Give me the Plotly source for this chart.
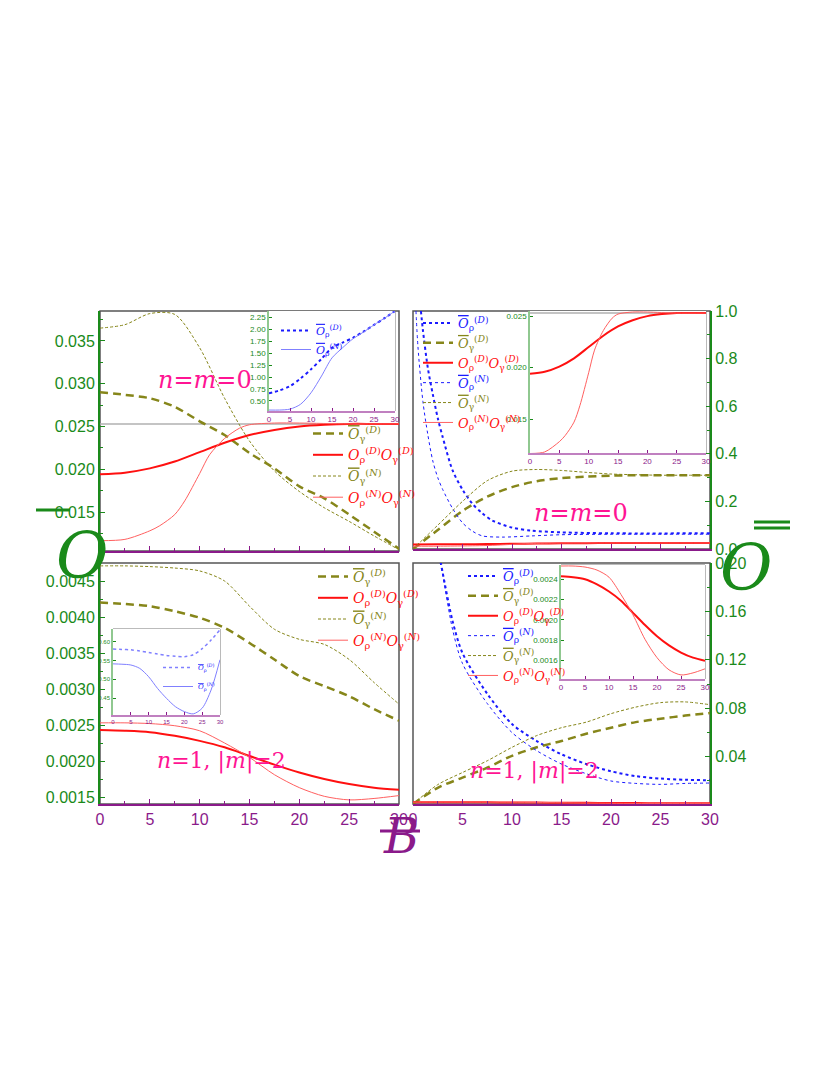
import plotly.graph_objects as go

# shared field grid
b = [0, 2.5, 5, 7.5, 10, 12.5, 15, 17.5, 20, 22.5, 25, 27.5, 30]

# n=m=0
n0_gam_D = [0.0290, 0.0287, 0.0283, 0.0273, 0.0256, 0.0240, 0.0219, 0.0201, 0.0180, 0.0166, 0.0147, 0.0127, 0.0107]
n0_gam_N = [0.0365, 0.0369, 0.0382, 0.0381, 0.0342, 0.0283, 0.0233, 0.0198, 0.0174, 0.0155, 0.0139, 0.0122, 0.0106]
n0_prod_D = [0.0194, 0.0196, 0.0201, 0.0209, 0.0220, 0.0231, 0.0240, 0.0246, 0.0250, 0.0252, 0.0253, 0.0253, 0.0253]
n0_prod_N_b = [0, 2.5, 5, 6, 7.5, 8.5, 10, 11, 12.5, 14, 15, 17.5, 20, 25, 30]
n0_prod_N = [0.01165, 0.0118, 0.0128, 0.0134, 0.0147, 0.0163, 0.0195, 0.0217, 0.0236, 0.0248, 0.0252, 0.0254, 0.0254, 0.0253, 0.0253]
n0_limit = 0.0253
n0_rho_D = [0.66, 0.72, 0.81, 0.97, 1.16, 1.38, 1.61, 1.72, 1.82, 1.95, 2.09, 2.23, 2.38]
n0_rho_N = [0.31, 0.31, 0.33, 0.43, 0.67, 1.02, 1.40, 1.61, 1.80, 1.94, 2.09, 2.23, 2.38]
n0_rhoD_b = [0.8, 1, 1.5, 2, 2.5, 3, 4, 5, 6, 7, 8, 10, 12, 15, 20, 30]
n0_rhoD_scaled = [1.0, 0.92, 0.76, 0.65, 0.55, 0.47, 0.33, 0.25, 0.19, 0.15, 0.12, 0.09, 0.077, 0.07, 0.066, 0.066]
n0_rhoN_b = [0.3, 0.5, 1, 1.5, 2, 2.5, 3, 4, 5, 6, 7, 9, 12, 15, 20, 30]
n0_rhoN_scaled = [1.0, 0.85, 0.62, 0.48, 0.37, 0.3, 0.25, 0.17, 0.11, 0.075, 0.055, 0.05, 0.055, 0.06, 0.062, 0.062]
n0_gamD_scaled = [0, 0.08, 0.16, 0.22, 0.26, 0.285, 0.298, 0.304, 0.308, 0.31, 0.31, 0.31, 0.31]
n0_gamN_scaled = [0, 0.10, 0.20, 0.287, 0.327, 0.334, 0.33, 0.322, 0.315, 0.312, 0.31, 0.31, 0.31]

# n=1, |m|=2
n1_gam_D = [0.00420, 0.00418, 0.00415, 0.00408, 0.00399, 0.00385, 0.00364, 0.00341, 0.00318, 0.00304, 0.00290, 0.00272, 0.00256]
n1_gam_N = [0.00471, 0.00471, 0.00470, 0.00468, 0.00464, 0.00450, 0.00415, 0.00383, 0.00369, 0.00362, 0.00341, 0.00309, 0.00279]
n1_prod_D = [0.00243, 0.00242, 0.00240, 0.00235, 0.00228, 0.00219, 0.00207, 0.00195, 0.00184, 0.00175, 0.00168, 0.00163, 0.00160]
n1_prod_N = [0.00253, 0.00253, 0.00252, 0.00249, 0.00242, 0.00225, 0.00205, 0.00181, 0.00163, 0.00151, 0.00146, 0.00148, 0.00152]
n1_rho_D = [0.580, 0.579, 0.578, 0.575, 0.571, 0.567, 0.563, 0.561, 0.560, 0.565, 0.581, 0.604, 0.631]
n1_rho_N = [0.541, 0.540, 0.538, 0.529, 0.507, 0.476, 0.450, 0.428, 0.415, 0.409, 0.424, 0.472, 0.552]
n1_rho_b = [2, 2.5, 3, 4, 5, 7.5, 10, 12.5, 15, 17.5, 20, 22.5, 25, 27.5, 30]
n1_rhoD_scaled = [0.24, 0.215, 0.192, 0.152, 0.1256, 0.092, 0.067, 0.053, 0.042, 0.034, 0.028, 0.024, 0.022, 0.021, 0.0206]
n1_rhoN_scaled = [0.235, 0.21, 0.19, 0.145, 0.117, 0.084, 0.06, 0.045, 0.034, 0.026, 0.02, 0.018, 0.0172, 0.018, 0.0183]
n1_gamD_scaled = [0.001, 0.0144, 0.0228, 0.031, 0.0408, 0.0478, 0.053, 0.059, 0.064, 0.0686, 0.0714, 0.074, 0.0761]
n1_gamN_scaled = [0.001, 0.017, 0.027, 0.0367, 0.0478, 0.0575, 0.064, 0.0686, 0.0756, 0.081, 0.0847, 0.0853, 0.083]

OLIVE = "#86861a"
RED = "#ff1010"
LRED = "#ff6060"
BLUE = "#1a1aff"
LBLUE = "#8080ff"
GREEN = "#1a8a1a"
PURPLE = "#8a1a8a"
PINK = "#ff1493"
SERIF = "DejaVu Serif"
OBAR = "<span style='text-decoration:overline'><i>O</i></span>"


def lab(sub, sup, color):
    return f"<span style='color:{color}'>{OBAR}<sub>{sub}</sub><sup>(<i>{sup}</i>)</sup></span>"


def prod(sup, color):
    return (f"<span style='color:{color}'><i>O</i><sub>ρ</sub><sup>(<i>{sup}</i>)</sup>"
            f"<i>O</i><sub>γ</sub><sup>(<i>{sup}</i>)</sup></span>")


STY = {
    "rhoD": dict(color=BLUE, width=2, dash="dot"),
    "rhoN": dict(color=BLUE, width=1, dash="dot"),
    "gamD": dict(color=OLIVE, width=2.5, dash="8px,5px"),
    "gamN": dict(color=OLIVE, width=1, dash="3px,2px"),
    "prodD": dict(color=RED, width=2),
    "prodN": dict(color=LRED, width=1),
}
NAMES = {
    "rhoD": lab("ρ", "D", BLUE), "rhoN": lab("ρ", "N", BLUE),
    "gamD": lab("γ", "D", OLIVE), "gamN": lab("γ", "N", OLIVE),
    "prodD": prod("D", RED), "prodN": prod("N", RED),
}

fig = go.Figure()


def add(x, y, ax, key, legend=None, line=None, rank=1000):
    fig.add_trace(go.Scatter(
        x=x, y=y, mode="lines", xaxis="x" + ax, yaxis="y" + ax,
        line=dict(shape="spline", smoothing=0.8, **(line or STY[key])),
        name=NAMES[key], showlegend=legend is not None, legend=legend or "legend",
        legendrank=rank,
    ))


# top left (axis 1)
add(b, [n0_limit] * len(b), "", "prodD", line=dict(color="#b0b0b0", width=1.5))
add(b, n0_gam_N, "", "gamN", "legend", rank=3)
add(b, n0_gam_D, "", "gamD", "legend", rank=1)
add(b, n0_prod_D, "", "prodD", "legend", rank=2)
add(n0_prod_N_b, n0_prod_N, "", "prodN", "legend", rank=4)
# top left inset (axis 5)
add(b, n0_rho_D, "5", "rhoD", "legend5")
add(b, n0_rho_N, "5", "rhoN", "legend5", line=dict(color=LBLUE, width=1))

# top right (axis 2)
add(n0_rhoD_b, n0_rhoD_scaled, "2", "rhoD", "legend2")
add(b, n0_gamD_scaled, "2", "gamD", "legend2")
add(b, n0_prod_D, "2", "prodD", "legend2")
add(n0_rhoN_b, n0_rhoN_scaled, "2", "rhoN", "legend2")
add(b, n0_gamN_scaled, "2", "gamN", "legend2")
add(n0_prod_N_b, n0_prod_N, "2", "prodN", "legend2")
# top right inset (axis 6)
add(b, [n0_limit] * len(b), "6", "prodD", line=dict(color="#b0b0b0", width=1.5))
add(b, n0_prod_D, "6", "prodD")
add(n0_prod_N_b, n0_prod_N, "6", "prodN")

# bottom left (axis 3)
add(b, n1_gam_D, "3", "gamD", "legend3")
add(b, n1_prod_D, "3", "prodD", "legend3")
add(b, n1_gam_N, "3", "gamN", "legend3")
add(b, n1_prod_N, "3", "prodN", "legend3")
# bottom left inset (axis 7)
add(b, n1_rho_D, "7", "rhoD", "legend6", line=dict(color=LBLUE, width=1.5, dash="dot"))
add(b, n1_rho_N, "7", "rhoN", "legend6", line=dict(color=LBLUE, width=1))

# bottom right (axis 4)
add(n1_rho_b, n1_rhoD_scaled, "4", "rhoD", "legend4")
add(b, n1_gamD_scaled, "4", "gamD", "legend4")
add(b, n1_prod_D, "4", "prodD", "legend4")
add(n1_rho_b, n1_rhoN_scaled, "4", "rhoN", "legend4")
add(b, n1_gamN_scaled, "4", "gamN", "legend4")
add(b, n1_prod_N, "4", "prodN", "legend4")
# bottom right inset (axis 8)
add(b, n1_prod_D, "8", "prodD")
add(b, n1_prod_N, "8", "prodN")

W, H = 830, 1075


def px_x(a, c):
    return [a / W, c / W]


def px_y(top, bot):
    return [1 - bot / H, 1 - top / H]


panels = {
    "": (px_x(92, 391), px_y(303, 543), [0.01044, 0.0385], dict(dtick=0.005, tickformat=".3f", minor=dict(dtick=0.0025)), "left", False),
    "2": (px_x(405, 702), px_y(303, 541), [0, 1], dict(dtick=0.2, tickformat=".1f", minor=dict(dtick=0.1)), "right", False),
    "3": (px_x(92, 391), px_y(555, 796), [0.001403, 0.00475], dict(dtick=0.0005, tickformat=".4f", minor=dict(dtick=0.00025)), "left", True),
    "4": (px_x(405, 702), px_y(555, 796), [0.001, 0.2], dict(dtick=0.04, tickformat=".2f", minor=dict(dtick=0.02)), "right", True),
}
lay = {}
for k, (dx, dy, yr, yt, side, xlabels) in panels.items():
    lay["xaxis" + k] = dict(domain=dx, anchor="y" + k, range=[0, 30], dtick=5, showline=True,
                            linecolor=PURPLE, linewidth=2, ticks="inside", tickcolor=PURPLE,
                            minor=dict(dtick=2.5, ticks="inside", ticklen=3, tickcolor=PURPLE),
                            showticklabels=xlabels, showgrid=False, zeroline=False, automargin=False,
                            tickfont=dict(color=PURPLE, size=16, family="Liberation Sans"))
    lay["yaxis" + k] = dict(domain=dy, anchor="x" + k, range=yr, side=side, showline=True,
                            linecolor=GREEN, linewidth=2, ticks="inside", tickcolor=GREEN,
                            showgrid=False, zeroline=False, automargin=False,
                            tickfont=dict(color=GREEN, size=16, family="Liberation Sans"), **yt)
    lay["yaxis" + k]["minor"].update(ticks="inside", ticklen=3, tickcolor=GREEN)
    fig.add_shape(type="rect", xref=f"x{k} domain", yref=f"y{k} domain", x0=0, x1=1, y0=0, y1=1,
                  line=dict(color="#555555", width=1.5), layer="below")

insets = {
    "5": (px_x(261, 387), px_y(303, 403), [0.29, 2.38], dict(dtick=0.25, tickformat=".2f")),
    "6": (px_x(522, 698), px_y(303, 445), [0.0117, 0.0255], dict(dtick=0.005, tickformat=".3f")),
    "7": (px_x(105, 212), px_y(621, 707), [0.406, 0.633], dict(dtick=0.05, tickformat=".2f")),
    "8": (px_x(553, 697), px_y(557, 671), [0.00142, 0.00254], dict(dtick=0.0002, tickformat=".4f")),
}
for k, (dx, dy, yr, yt) in insets.items():
    small = 6 if k == "7" else 8
    lay["xaxis" + k] = dict(domain=dx, anchor="y" + k, range=[0, 30], dtick=5, showline=True,
                            linecolor="#c080c0", linewidth=1.5, ticks="inside", ticklen=3, tickcolor=PURPLE,
                            showgrid=False, zeroline=False, automargin=False,
                            tickfont=dict(color=PURPLE, size=small, family="Liberation Sans"))
    lay["yaxis" + k] = dict(domain=dy, anchor="x" + k, range=yr, showline=True,
                            linecolor="#90c890", linewidth=1.5, ticks="inside", ticklen=3, tickcolor=GREEN,
                            showgrid=False, zeroline=False, automargin=False,
                            tickfont=dict(color=GREEN, size=small, family="Liberation Sans"), **yt)
    fig.add_shape(type="rect", xref=f"x{k} domain", yref=f"y{k} domain", x0=0, x1=1, y0=0, y1=1,
                  line=dict(color="#777777", width=1), layer="below")


def leg(x, y, size, gap=0):
    return dict(x=x, y=y, xanchor="left", yanchor="top", xref="paper", yref="paper",
                bgcolor="rgba(0,0,0,0)", font=dict(family=SERIF, size=size),
                tracegroupgap=gap, itemwidth=30)


lay["legend"] = leg(300 / W, 1 - 410 / H, 14)
lay["legend2"] = leg(410 / W, 1 - 300 / H, 13)
lay["legend3"] = leg(305 / W, 1 - 553 / H, 14)
lay["legend4"] = leg(455 / W, 1 - 553 / H, 13)
lay["legend5"] = leg(268 / W, 1 - 308 / H, 11)
lay["legend6"] = leg(150 / W, 1 - 645 / H, 7)

fig.update_layout(width=W, height=H, margin=dict(l=0, r=0, t=0, b=0, autoexpand=False), autosize=False,
                  plot_bgcolor="white", paper_bgcolor="white", **lay)


def note(text, x, y, size, color, family=SERIF):
    fig.add_annotation(text=text, x=x / W, y=1 - y / H, xref="paper", yref="paper",
                       showarrow=False, font=dict(size=size, color=color, family=family))


def bar(x0, x1, y, color, width):
    fig.add_shape(type="line", xref="paper", yref="paper", x0=x0 / W, x1=x1 / W,
                  y0=1 - y / H, y1=1 - y / H, line=dict(color=color, width=width))


note("<i>n</i>=<i>m</i>=0", 148, 356, 24, PINK)
note("<i>n</i>=<i>m</i>=0", 622, 505, 24, PINK)
note("<i>n</i>=1, |<i>m</i>|=2", 147, 768, 22, PINK)
note("<i>n</i>=1, |<i>m</i>|=2", 526, 778, 22, PINK)
note("<i>O</i>", 46, 548, 64, GREEN)
bar(28, 62, 502, GREEN, 3)
note("<i>O</i>", 766, 560, 64, GREEN)
bar(746, 782, 514, GREEN, 3)
bar(746, 782, 520, GREEN, 3)
note("<i>B</i>", 393, 858, 48, PURPLE)
bar(372, 412, 823, PURPLE, 3)

fig.write_html("out.html")
